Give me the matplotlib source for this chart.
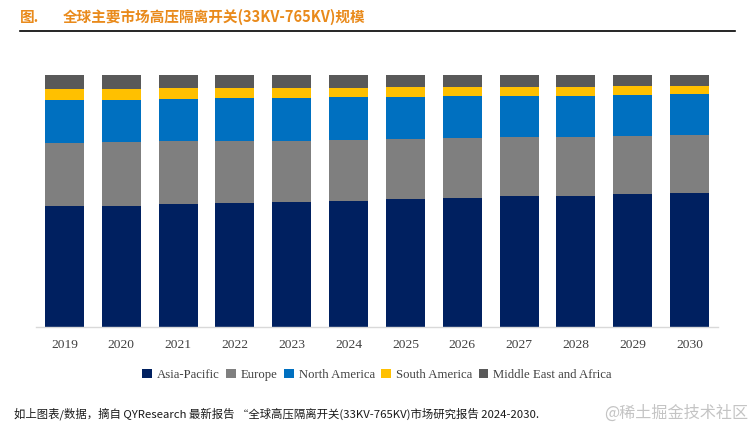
import matplotlib
matplotlib.use("Agg")
import matplotlib.pyplot as plt
from matplotlib.patches import Patch
from matplotlib.lines import Line2D
import numpy as np

years = ["2019", "2020", "2021", "2022", "2023", "2024", "2025", "2026", "2027", "2028", "2029", "2030"]
asia_pacific = [47.9, 47.9, 48.7, 49.1, 49.5, 49.9, 50.7, 51.1, 51.9, 51.9, 52.7, 53.1]
europe = [25.0, 25.4, 25.0, 24.6, 24.2, 24.2, 23.8, 23.8, 23.4, 23.4, 23.0, 23.0]
north_america = [17.1, 16.7, 16.7, 17.1, 17.1, 17.1, 16.7, 16.7, 16.3, 16.3, 16.3, 16.3]
south_america = [4.4, 4.4, 4.4, 4.0, 4.0, 3.6, 4.0, 3.6, 3.6, 3.6, 3.6, 3.2]
mea = [5.6, 5.6, 5.2, 5.2, 5.2, 5.2, 4.8, 4.8, 4.8, 4.8, 4.4, 4.4]
series_names = ["Asia-Pacific", "Europe", "North America", "South America", "Middle East and Africa"]
colors = ["#002060", "#7F7F7F", "#0070C0", "#FFC000", "#595959"]

title_prefix = "图."
title_text = "全球主要市场高压隔离开关(33KV-765KV)规模"
footer_text = "如上图表/数据，摘自 QYResearch 最新报告 “全球高压隔离开关(33KV-765KV)市场研究报告 2024-2030."
watermark = "@稀土掘金技术社区"

cjk = ["Noto Sans CJK SC", "DejaVu Sans"]
serif = ["Liberation Serif", "DejaVu Serif"]

fig = plt.figure(figsize=(7.51, 4.29), dpi=100)
W, H = 751, 429
ax = fig.add_axes([36 / W, 1 - 327 / H, (718 - 36) / W, (327 - 75) / H])

data = np.array([asia_pacific, europe, north_america, south_america, mea], dtype=float)
data = data / data.sum(axis=0) * 100
x = np.arange(len(years))
bottom = np.zeros(len(years))
for vals, c, name in zip(data, colors, series_names):
    ax.bar(x, vals, bottom=bottom, width=0.685, color=c, label=name, linewidth=0)
    bottom += vals

ax.set_xlim(-0.5, len(years) - 0.5)
ax.set_ylim(0, 100)
ax.set_yticks([])
ax.set_xticks(x)
ax.set_xticklabels(years, fontfamily=serif, fontsize=9.7, color="#404040")
ax.tick_params(axis="x", length=0, pad=9)
for s in ["top", "right", "left"]:
    ax.spines[s].set_visible(False)
ax.spines["bottom"].set_color("#D9D9D9")
ax.spines["bottom"].set_linewidth(1)

# Title
fig.text(20 / W, 1 - 17 / H, title_prefix, fontfamily=cjk, fontsize=10.5, fontweight="bold",
         color="#E98A1B", va="center", ha="left")
fig.text(63 / W, 1 - 17 / H, title_text, fontfamily=cjk, fontsize=10.5, fontweight="bold",
         color="#E98A1B", va="center", ha="left")
fig.add_artist(Line2D([20 / W, 735 / W], [1 - 31 / H, 1 - 31 / H], color="black", linewidth=1.2))

# Legend
handles = [Patch(facecolor=c, edgecolor="none") for c in colors]
leg = fig.legend(handles, series_names, loc="center", bbox_to_anchor=(377 / W, 1 - 375 / H), ncol=5,
                 frameon=False, prop={"family": serif, "size": 9.2}, handlelength=0.75, handleheight=0.75,
                 handletextpad=0.4, columnspacing=0.5, borderpad=0)
for t in leg.get_texts():
    t.set_color("#404040")

# Footer
fig.text(14 / W, 1 - 414 / H, footer_text, fontfamily=cjk, fontsize=8.2, style="italic",
         color="#1a1a1a", va="center", ha="left")
fig.text(748 / W, 1 - 413 / H, watermark, fontfamily=cjk, fontsize=11.6, color="#C4C4C4",
         va="center", ha="right")

fig.savefig("out.png", dpi=100, facecolor="white")
